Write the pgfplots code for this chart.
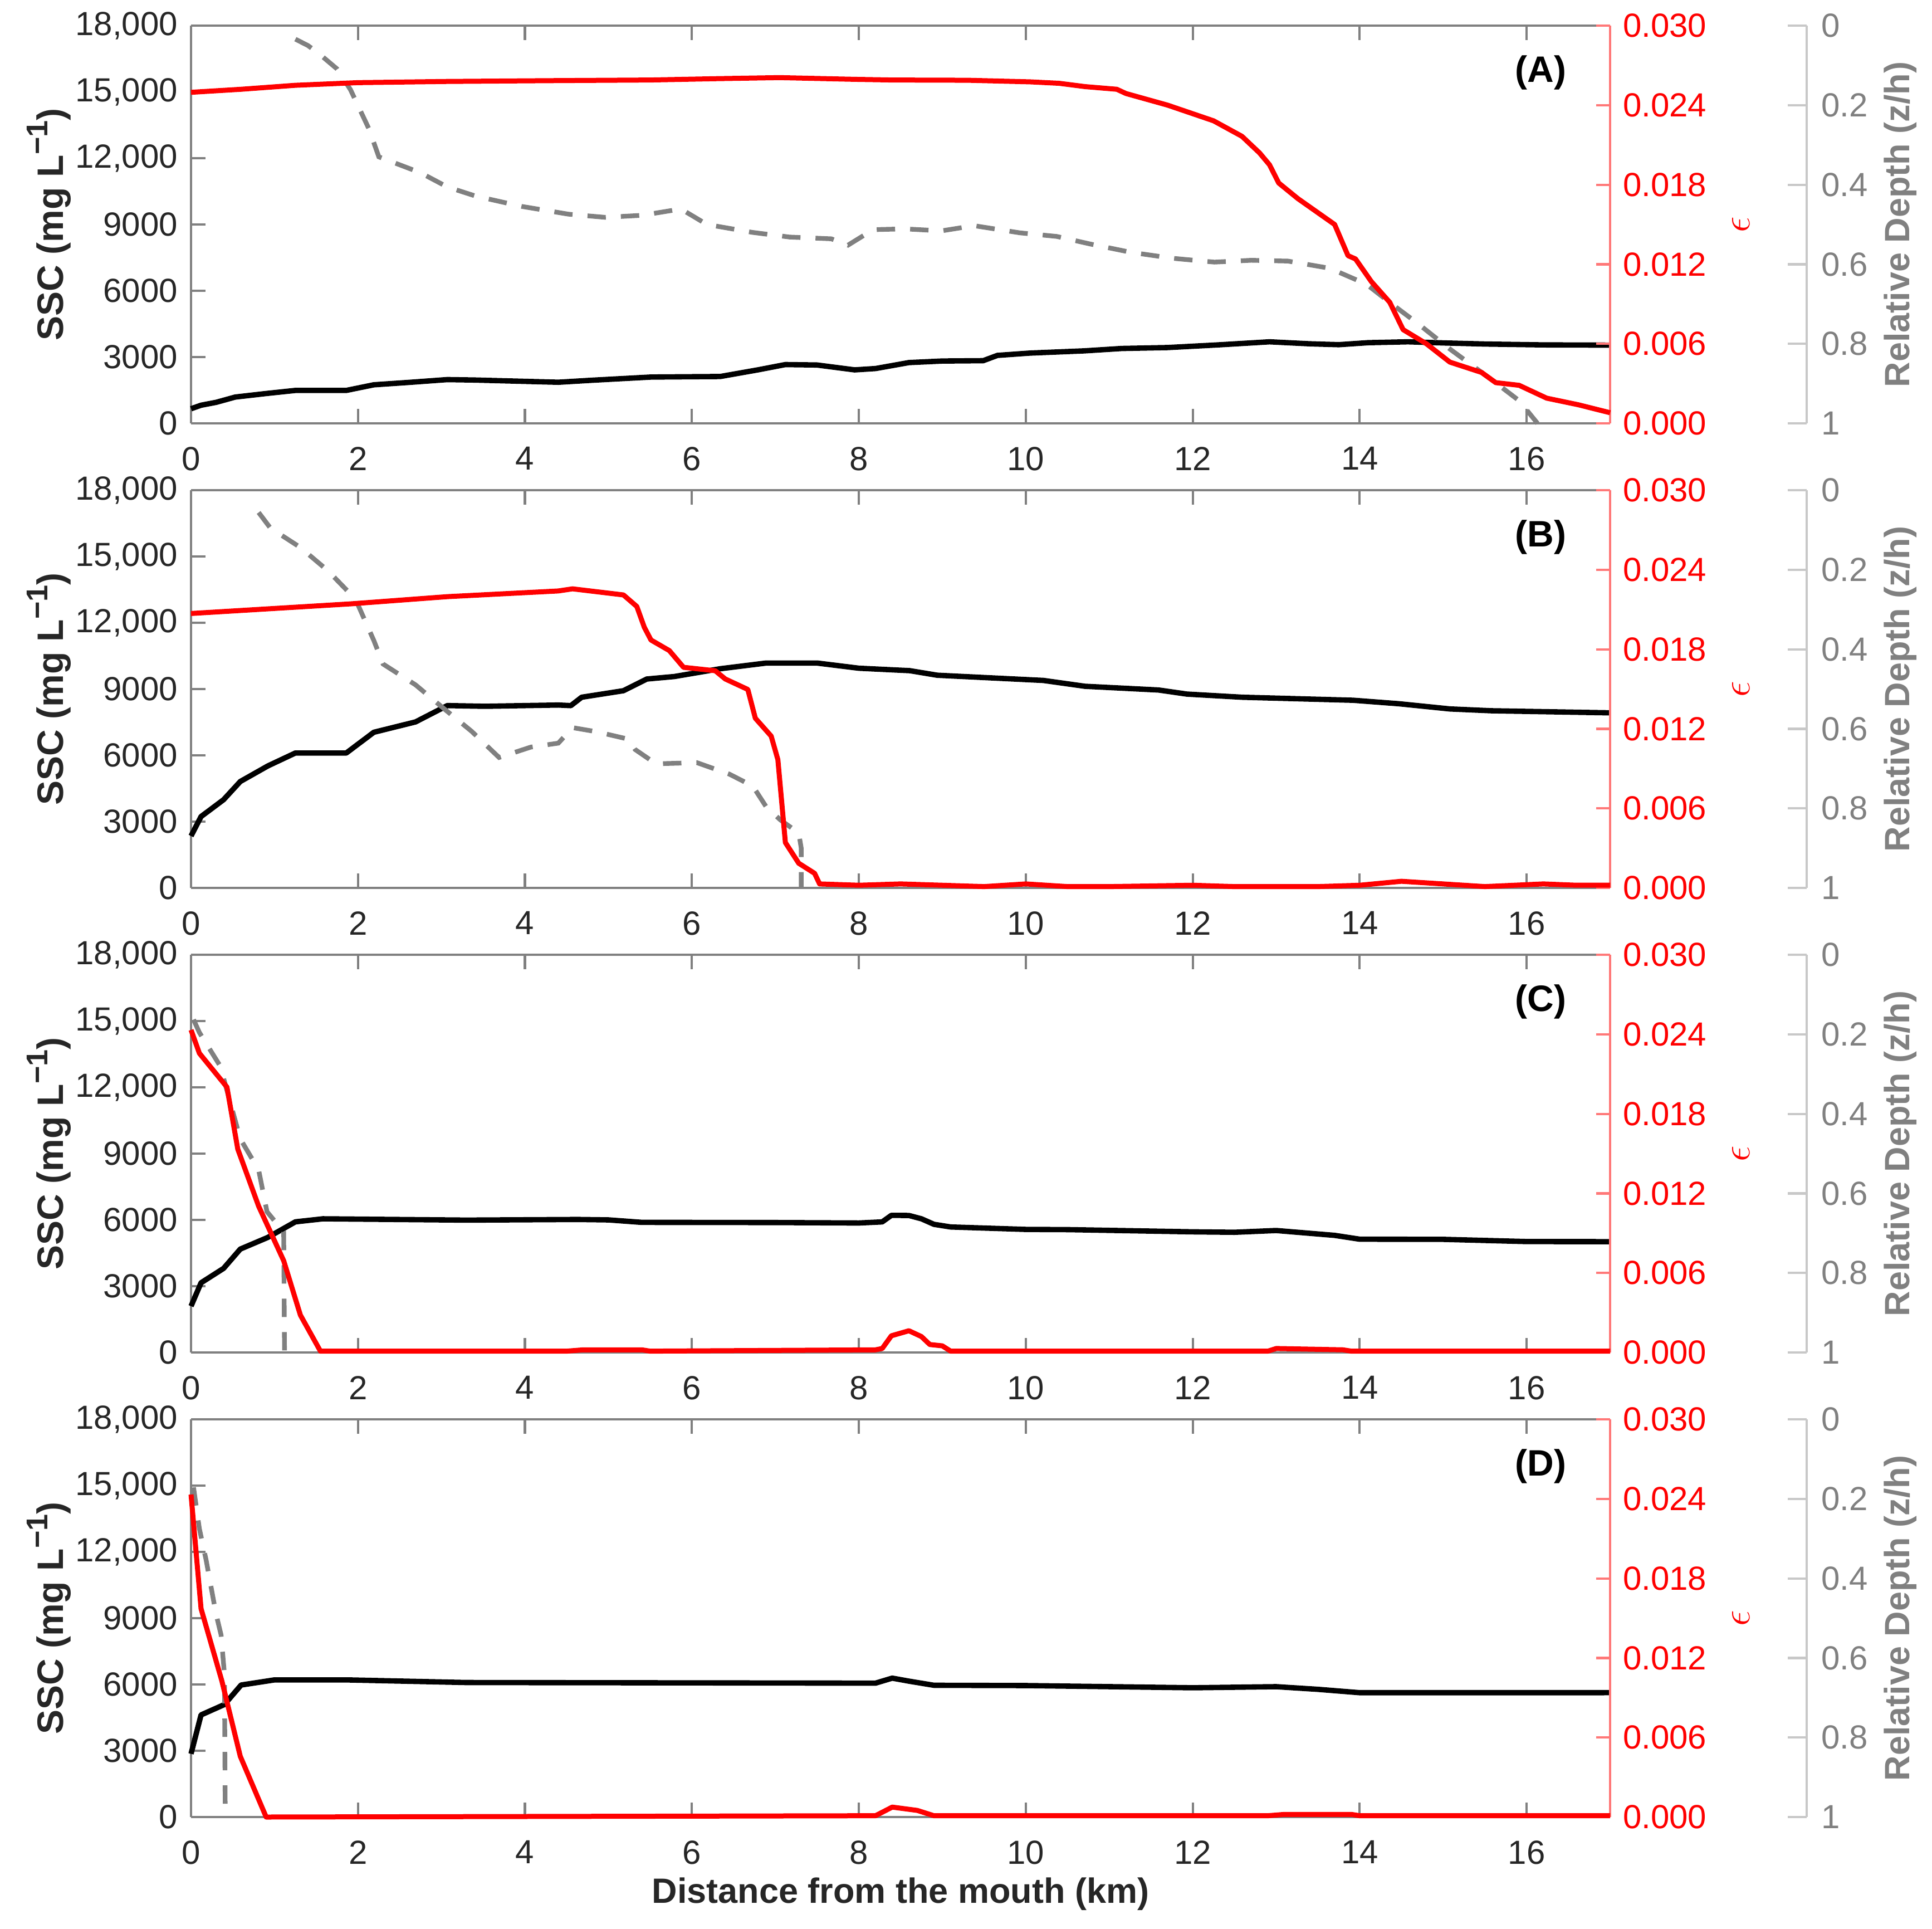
\documentclass[border=0pt]{standalone}
\usepackage{fontspec}
\setmainfont{Liberation Sans}
\usepackage{pgfplots}
\pgfplotsset{compat=1.18}

\definecolor{axgray}{RGB}{128,128,128}
\definecolor{labdark}{RGB}{38,38,38}
\definecolor{depgray}{RGB}{128,128,128}
\definecolor{deplight}{RGB}{200,200,200}
\definecolor{redax}{RGB}{255,120,120}

\pgfplotsset{
  mainax/.style={
    scale only axis, width=424.67pt, height=119pt,
    xmin=0, xmax=17, ymin=0, ymax=18000, clip=false,
    scaled x ticks=false, scaled y ticks=false,
    axis x line*=box, axis y line*=left,
    xtick pos=both, xticklabel pos=lower, ytick pos=left,
    axis line style={draw=axgray, line width=0.7pt},
    tick style={draw=axgray, line width=0.7pt},
    tick align=inside, major tick length=4.3pt,
    xtick={0,2,4,6,8,10,12,14,16},
    xticklabels={0,2,4,6,8,10,12,14,16},
    ytick={0,3000,6000,9000,12000,15000,18000},
    yticklabels={0,3000,6000,9000,{12,000},{15,000},{18,000}},
    ticklabel style={font=\fontsize{10}{12}\selectfont, text=labdark},
    xticklabel style={yshift=-3.5pt},
    yticklabel style={xshift=-0.5pt},
    ylabel={SSC (mg L\raisebox{0.42em}{\fontsize{9}{9}\selectfont −1})},
    every axis y label/.style={at={(axis description cs:0,0.5)}, xshift=-42.5pt, rotate=90,
      anchor=center, font=\bfseries\fontsize{11}{13}\selectfont, text=labdark},
    every axis x label/.style={at={(axis description cs:0.5,0)}, yshift=-23pt, anchor=center,
      font=\bfseries\fontsize{10.5}{12}\selectfont, text=labdark},
  },
  epsax/.style={
    scale only axis, width=424.67pt, height=119pt,
    xmin=0, xmax=17, ymin=0, ymax=0.03, clip=false,
    scaled x ticks=false, scaled y ticks=false,
    hide x axis, axis y line*=right,
    axis line style={draw=redax, line width=0.7pt},
    tick style={draw=redax, line width=0.7pt},
    tick align=inside, major tick length=4.2pt,
    ytick={0,0.006,0.012,0.018,0.024,0.03},
    yticklabels={0.000,0.006,0.012,0.018,0.024,0.030},
    yticklabel style={font=\fontsize{10}{12}\selectfont, text=red, xshift=0.3pt},
    ylabel={$\epsilon$},
    every axis y label/.style={at={(axis description cs:1,0.5)}, xshift=39.2pt, rotate=90,
      anchor=center, font=\fontsize{12}{14}\selectfont, text=red},
  },
  depax/.style={
    scale only axis, width=483.5pt, height=119pt,
    xmin=0, xmax=19.3552, ymin=0, ymax=1, y dir=reverse, clip=false,
    scaled x ticks=false, scaled y ticks=false,
    hide x axis, axis y line*=right,
    axis line style={draw=deplight, line width=0.7pt},
    tick style={draw=deplight, line width=0.7pt},
    tick align=inside, major tick length=5.7pt,
    ytick={0,0.2,0.4,0.6,0.8,1},
    yticklabels={0,0.2,0.4,0.6,0.8,1},
    yticklabel style={font=\fontsize{10}{12}\selectfont, text=depgray, xshift=0.8pt},
    ylabel={Relative Depth (z/h)},
    every axis y label/.style={at={(axis description cs:1,0.5)}, xshift=28pt, rotate=90,
      anchor=center, font=\bfseries\fontsize{10.5}{12}\selectfont, text=depgray},
  },
  blk/.style={black, line width=1.6pt, line join=round},
  rd/.style={red, line width=1.5pt, line join=round},
  gry/.style={depgray, line width=1.4pt, dash pattern=on 5.5pt off 4.5pt},
}

\newcommand{\panel}[6]{%
  \begin{axis}[mainax, at={(0pt,#1)}, anchor=south west, #6]
    \addplot[blk] coordinates {#3};
    \node[font=\bfseries\fontsize{11}{13}\selectfont, text=black] at (axis cs:16.17,15880) {(#2)};
  \end{axis}
  \begin{axis}[depax, at={(0pt,#1)}, anchor=south west]
    \addplot[gry] coordinates {#5};
  \end{axis}
  \begin{axis}[epsax, at={(0pt,#1)}, anchor=south west]
    \addplot[rd] coordinates {#4};
  \end{axis}
}

\begin{document}
\begin{tikzpicture}
\useasboundingbox (-57.17pt,0pt) rectangle (521pt,-577.17pt);

% Panel A
\panel{-126.67pt}{A}{
(0,660)(0.12,820)(0.3,950)(0.53,1190)(0.9,1350)(1.25,1490)(1.86,1490)(2.19,1745)(2.6,1850)(3.07,1980)(3.4,1960)(4.0,1900)(4.4,1860)(4.8,1950)(5.51,2095)(6.0,2110)(6.34,2120)(6.79,2420)(7.12,2660)(7.5,2640)(7.95,2420)(8.2,2480)(8.6,2750)(9.0,2820)(9.49,2836)(9.66,3075)(10.05,3180)(10.7,3280)(11.15,3388)(11.7,3430)(12.3,3550)(12.92,3690)(13.4,3600)(13.75,3560)(14.1,3650)(14.58,3690)(15.0,3640)(15.5,3590)(16.2,3550)(17,3540)
}{
(0,0.02497)(0.6,0.0252)(1.25,0.0255)(2.0,0.0257)(3.07,0.02579)(4.3,0.02585)(5.51,0.0259)(6.3,0.0260)(7.05,0.02608)(7.95,0.02595)(8.39,0.0259)(9.3,0.02588)(10.05,0.02576)(10.4,0.02565)(10.71,0.0254)(11.09,0.0252)(11.2,0.02488)(11.70,0.0240)(12.25,0.02282)(12.59,0.02165)(12.8,0.0204)(12.92,0.0195)(13.03,0.01813)(13.26,0.01695)(13.70,0.0150)(13.86,0.01265)(13.95,0.0124)(14.14,0.01069)(14.36,0.00913)(14.52,0.00707)(14.8,0.0060)(15.08,0.00462)(15.46,0.00384)(15.63,0.00307)(15.91,0.00287)(16.24,0.0019)(16.62,0.0014)(17.0,0.0008)
}{
(1.25,0.034)(1.4,0.05)(1.53,0.07)(1.75,0.109)(1.91,0.161)(2.13,0.259)(2.25,0.33)(2.75,0.37)(3.07,0.4056)(3.41,0.4286)(3.96,0.4545)(4.52,0.474)(4.96,0.482)(5.4,0.477)(5.87,0.461)(6.18,0.5)(6.73,0.52)(7.17,0.5316)(7.67,0.536)(7.87,0.552)(8.17,0.513)(8.55,0.511)(8.99,0.516)(9.38,0.503)(9.93,0.521)(10.37,0.53)(10.77,0.549)(11.26,0.57)(11.76,0.585)(12.26,0.5946)(12.7,0.59)(13.14,0.592)(13.64,0.61)(14.08,0.65)(14.36,0.696)(14.69,0.748)(15.08,0.813)(15.63,0.898)(15.91,0.943)(16.13,1.0)
}{}

% Panel B
\panel{-265.67pt}{B}{
(0,2350)(0.12,3229)(0.39,3993)(0.59,4815)(0.92,5520)(1.25,6106)(1.86,6106)(2.19,7044)(2.69,7513)(3.07,8252)(3.52,8220)(4.4,8277)(4.55,8250)(4.68,8630)(5.18,8925)(5.46,9454)(5.79,9567)(6.34,9920)(6.89,10177)(7.50,10177)(8.0,9943)(8.61,9832)(8.94,9625)(10.21,9390)(10.71,9125)(11.59,8957)(11.93,8772)(12.59,8630)(13.92,8493)(14.47,8335)(15.08,8100)(15.58,8017)(17,7924)
}{
(0,0.0207)(1.92,0.02143)(3.07,0.02197)(4.4,0.0224)(4.57,0.02256)(5.18,0.0221)(5.34,0.02123)(5.43,0.01966)(5.51,0.0187)(5.73,0.0179)(5.9,0.01664)(6.28,0.01638)(6.4,0.01576)(6.67,0.01497)(6.76,0.0128)(6.95,0.01145)(7.03,0.00968)(7.12,0.00342)(7.28,0.00186)(7.47,0.0011)(7.53,0.0003)(8.0,0.0002)(8.5,0.0003)(9.0,0.0002)(9.5,0.0001)(10.0,0.0003)(10.5,0.0001)(11.0,0.0001)(12.0,0.0002)(12.5,0.0001)(13.5,0.0001)(14.0,0.0002)(14.5,0.0005)(15.0,0.0003)(15.5,0.0001)(16.2,0.0003)(16.6,0.0002)(17,0.0002)
}{
(0.81,0.056)(0.95,0.095)(1.31,0.144)(1.64,0.2025)(1.97,0.274)(2.19,0.378)(2.3,0.437)(2.69,0.4895)(3.02,0.5476)(3.36,0.606)(3.69,0.672)(4.07,0.646)(4.4,0.636)(4.57,0.597)(4.85,0.607)(5.24,0.626)(5.32,0.652)(5.57,0.688)(6.06,0.685)(6.45,0.714)(6.73,0.744)(6.89,0.796)(7.06,0.829)(7.28,0.862)(7.31,0.90)(7.31,1.0)
}{}

% Panel C
\panel{-404.67pt}{C}{
(0,2097)(0.12,3154)(0.39,3806)(0.59,4679)(0.92,5208)(1.25,5912)(1.58,6050)(3.3,5990)(4.63,6020)(5.0,6000)(5.40,5889)(7.0,5880)(8.0,5860)(8.28,5910)(8.39,6207)(8.6,6200)(8.75,6050)(8.9,5800)(9.1,5680)(10.0,5570)(10.5,5560)(12.0,5460)(12.5,5440)(13.0,5520)(13.7,5300)(14.0,5127)(15.0,5120)(16.0,5020)(17,5015)
}{
(0,0.02433)(0.1,0.02257)(0.43,0.02002)(0.56,0.01534)(0.81,0.01103)(1.11,0.00692)(1.31,0.00282)(1.55,0.0001)(4.5,0.0001)(4.7,0.0002)(5.4,0.0002)(5.5,0.0001)(8.2,0.0002)(8.28,0.0003)(8.39,0.00126)(8.6,0.00164)(8.75,0.0012)(8.85,0.0006)(9.0,0.0005)(9.1,0.0001)(12.9,0.0001)(13.0,0.0003)(13.8,0.0002)(13.9,0.0001)(17,0.0001)
}{
(0.03,0.163)(0.1,0.1955)(0.35,0.28)(0.59,0.463)(0.81,0.541)(0.91,0.646)(1.11,0.697)(1.12,1.0)
}{}

% Panel D
\panel{-543.67pt}{D}{
(0,2861)(0.12,4621)(0.4,5093)(0.6,5975)(1.0,6207)(1.86,6207)(3.3,6088)(8.2,6060)(8.4,6287)(8.6,6150)(8.9,5963)(10,5950)(12,5851)(13,5900)(13.5,5780)(14,5628)(17,5630)
}{
(0,0.02433)(0.12,0.01572)(0.37,0.01025)(0.59,0.00458)(0.9,0.0)(8.2,0.0001)(8.4,0.00075)(8.7,0.0005)(8.9,0.0001)(12.9,0.0001)(13.1,0.0002)(13.9,0.0002)(14,0.0001)(17,0.0001)
}{
(0.03,0.171)(0.1,0.275)(0.18,0.353)(0.3,0.49)(0.36,0.542)(0.4,0.64)(0.41,1.0)
}{xlabel={Distance from the mouth (km)}}

\end{tikzpicture}
\end{document}
